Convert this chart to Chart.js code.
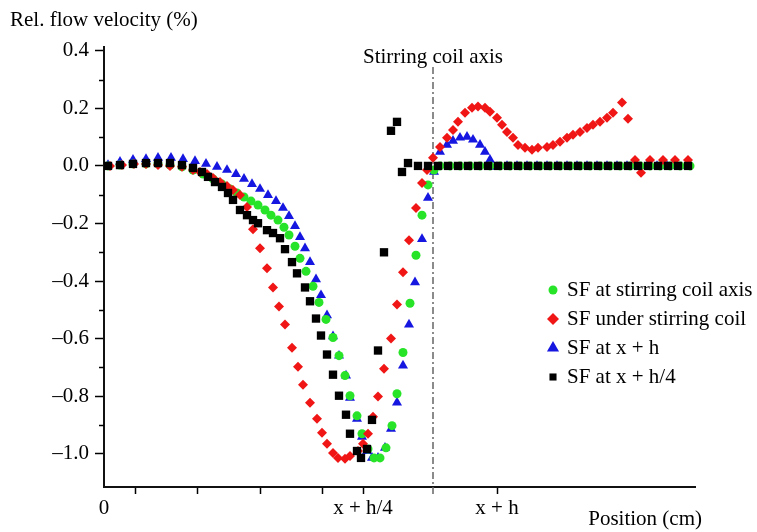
<!DOCTYPE html>
<html>
<head>
<meta charset="utf-8">
<script src="https://cdn.jsdelivr.net/npm/chart.js@4.4.1/dist/chart.umd.min.js"></script>
<style>
  html, body { margin: 0; padding: 0; background: #fff; }
</style>
</head>
<body>
<canvas id="flowChart" width="757" height="532"></canvas>
<script>
// Position along the strand (plot units, 0 = left axis) and relative velocity
const greenX = [4, 16, 29, 42, 54, 66, 78, 89, 99, 109, 118, 126, 133, 140, 147, 154, 161, 167, 174, 180,
    185, 191, 196, 202, 209, 215, 222, 229, 235, 241, 246, 253, 258, 264, 270, 276, 282, 288, 293, 299,
    306, 312, 318, 324, 330, 336, 346, 356, 366, 376, 386, 396, 406, 416, 426, 436, 446, 456, 466, 476,
    486, 496, 506, 516, 526, 536, 546, 556, 566, 576, 586];
const greenY = [0, 0.003, 0.007, 0.007, 0.007, 0.003, -0.003, -0.014, -0.028, -0.045, -0.063, -0.080, -0.094, -0.108, -0.122, -0.136, -0.153, -0.171, -0.188, -0.213,
    -0.240, -0.279, -0.321, -0.366, -0.418, -0.474, -0.533, -0.596, -0.659, -0.728, -0.798, -0.868, -0.930, -0.983, -1.014, -1.014, -0.979, -0.902, -0.791, -0.648,
    -0.477, -0.310, -0.171, -0.066, -0.014, 0, 0, 0, 0, 0, 0, 0, 0, 0, 0, 0, 0, 0, 0, 0,
    0, 0, 0, 0, 0, 0, 0, 0, 0, 0, 0];

const redX = [6, 18, 30, 42, 54, 66, 78, 89, 96, 103, 109, 116, 123, 129, 136, 143, 149, 156, 163, 169,
    175, 181, 188, 194, 199, 206, 213, 218, 223, 229, 234, 241, 246, 254, 259, 264, 269, 274, 280, 287,
    293, 299, 305, 312, 318, 323, 329, 336, 343, 349, 354, 361, 368, 374, 381, 386, 393, 398, 403, 409,
    414, 421, 428, 434, 443, 449, 456, 463, 469, 476, 483, 489, 496, 503, 509, 518, 524, 531, 537, 546,
    559, 571, 584];
const redY = [0, 0.003, 0.007, 0.007, 0.003, 0, -0.003, -0.014, -0.021, -0.028, -0.042, -0.056, -0.070, -0.084, -0.101, -0.143, -0.220, -0.286, -0.355, -0.422,
    -0.488, -0.551, -0.631, -0.697, -0.760, -0.822, -0.878, -0.927, -0.965, -0.997, -1.014, -1.017, -1.007, -0.990, -0.965, -0.930, -0.871, -0.801, -0.704, -0.599,
    -0.481, -0.369, -0.258, -0.146, -0.059, -0.014, 0.028, 0.066, 0.098, 0.125, 0.153, 0.185, 0.202, 0.206, 0.202, 0.188, 0.167, 0.143, 0.118, 0.098,
    0.073, 0.063, 0.056, 0.063, 0.066, 0.073, 0.084, 0.098, 0.108, 0.118, 0.132, 0.143, 0.153, 0.167, 0.185, 0.220, 0.164, 0.021, -0.024, 0.021,
    0.021, 0.021, 0.021];

const blueX = [4, 16, 29, 42, 54, 67, 79, 91, 102, 113, 123, 132, 140, 148, 156, 164, 172, 179, 185, 191,
    196, 201, 206, 212, 217, 223, 229, 235, 242, 246, 253, 258, 263, 268, 274, 281, 287, 293, 299, 305,
    311, 318, 324, 330, 336, 343, 349, 356, 363, 369, 376, 381, 386, 393, 403, 413, 423, 433, 443, 453,
    463, 473, 483, 493, 503, 513, 523, 533, 543, 553, 563, 573, 583];
const blueY = [0.003, 0.014, 0.021, 0.024, 0.028, 0.028, 0.024, 0.017, 0.007, -0.003, -0.014, -0.028, -0.045, -0.063, -0.080, -0.101, -0.122, -0.146, -0.174, -0.209,
    -0.247, -0.286, -0.334, -0.394, -0.449, -0.519, -0.592, -0.659, -0.728, -0.805, -0.878, -0.941, -0.990, -1.014, -1.014, -0.979, -0.913, -0.822, -0.693, -0.551,
    -0.404, -0.254, -0.111, -0.021, 0.049, 0.073, 0.087, 0.098, 0.101, 0.091, 0.073, 0.049, 0.021, -0.003, 0, 0, 0, 0, 0, 0,
    0, 0, 0, 0, 0, 0, 0, 0, 0, 0, 0, 0, 0];

const blackX = [4, 16, 29, 42, 54, 66, 78, 89, 98, 104, 111, 118, 124, 129, 136, 143, 149, 154, 163, 169,
    176, 181, 188, 193, 201, 206, 212, 217, 223, 229, 235, 242, 246, 253, 257, 263, 268, 274, 280, 287,
    293, 298, 304, 314, 324, 334, 344, 354, 364, 374, 384, 394, 404, 414, 424, 434, 444, 454, 464, 474,
    484, 494, 504, 514, 524, 534, 544, 554, 564, 574, 584];
const blackY = [0, 0.003, 0.007, 0.010, 0.010, 0.010, 0.003, -0.007, -0.021, -0.038, -0.056, -0.073, -0.094, -0.118, -0.153, -0.171, -0.188, -0.199, -0.223, -0.233,
    -0.251, -0.289, -0.334, -0.373, -0.422, -0.470, -0.530, -0.589, -0.655, -0.725, -0.798, -0.864, -0.930, -0.990, -1.014, -0.983, -0.882, -0.641, -0.300, 0.122,
    0.153, -0.021, 0.010, 0, 0, 0, 0, 0, 0, 0, 0, 0, 0, 0, 0, 0, 0, 0, 0, 0,
    0, 0, 0, 0, 0, 0, 0, 0, 0, 0, 0];

const seriesNames = ['SF at stirring coil axis', 'SF under stirring coil', 'SF at x + h', 'SF at x + h/4'];

// Axes
const xTickValues = [0, 31, 93, 156, 218, 259, 393];
const xTickLabels = ['0', '', '', '', '', 'x + h/4', 'x + h'];
const yTickValues = [-1.0, -0.8, -0.6, -0.4, -0.2, 0.0, 0.2, 0.4];
const yMinorValues = [-0.9, -0.7, -0.5, -0.3, -0.1, 0.1, 0.3];
const coilAxisX = 329;

const FONT = '"Liberation Serif", "Times New Roman", serif';

function toPoints(xs, ys) {
    return xs.map((x, i) => ({ x: x, y: ys[i] }));
}

function formatY(v) {
    const s = Math.abs(v).toFixed(1);
    return v < -0.0001 ? '\u2013' + s : s;
}

// Extra drawing: minor ticks, coil axis line, titles and legend
const decorations = {
    id: 'decorations',
    beforeDatasetsDraw(chart) {
        const ctx = chart.ctx;
        const x = chart.scales.x.getPixelForValue(coilAxisX);
        ctx.save();
        ctx.strokeStyle = '#666';
        ctx.lineWidth = 1.5;
        ctx.setLineDash([7, 3, 2, 3]);
        ctx.beginPath();
        ctx.moveTo(x, 67);
        ctx.lineTo(x, chart.chartArea.bottom + 7);
        ctx.stroke();
        ctx.restore();
    },
    afterDraw(chart) {
        const ctx = chart.ctx;
        const y = chart.scales.y;
        const area = chart.chartArea;
        ctx.save();

        // minor ticks on the value axis
        ctx.strokeStyle = '#000';
        ctx.lineWidth = 1.5;
        yMinorValues.forEach(v => {
            const py = Math.round(y.getPixelForValue(v)) + 0.5;
            ctx.beginPath();
            ctx.moveTo(area.left - 5, py);
            ctx.lineTo(area.left, py);
            ctx.stroke();
        });

        ctx.fillStyle = '#000';
        ctx.font = '21px ' + FONT;
        ctx.textBaseline = 'middle';
        ctx.textAlign = 'left';
        ctx.fillText('Rel. flow velocity (%)', 10, 20);
        ctx.textAlign = 'right';
        ctx.fillText('Position (cm)', 702, 519);
        ctx.textAlign = 'center';
        ctx.fillText('Stirring coil axis', chart.scales.x.getPixelForValue(coilAxisX), 57);

        // legend
        const rows = [290, 319, 348, 377];
        const radii = [4.5, 6, 7, 5];
        chart.data.datasets.forEach((ds, i) => {
            ctx.fillStyle = ds.backgroundColor;
            Chart.helpers.drawPoint(ctx, { pointStyle: ds.pointStyle, radius: radii[i], rotation: 0, borderWidth: 0 }, 553, rows[i]);
            ctx.fillStyle = '#000';
            ctx.textAlign = 'left';
            ctx.fillText(ds.label, 567, rows[i]);
        });
        ctx.restore();
    }
};

const ctx = document.getElementById('flowChart').getContext('2d');
new Chart(ctx, {
    type: 'scatter',
    data: {
        datasets: [
            {
                label: seriesNames[0],
                data: toPoints(greenX, greenY),
                pointStyle: 'circle',
                pointRadius: 4.5,
                backgroundColor: 'rgb(40, 228, 40)',
                borderColor: 'rgb(40, 228, 40)',
                borderWidth: 0,
                order: 2
            },
            {
                label: seriesNames[1],
                data: toPoints(redX, redY),
                pointStyle: 'rectRot',
                pointRadius: 5,
                backgroundColor: 'rgb(240, 22, 22)',
                borderColor: 'rgb(240, 22, 22)',
                borderWidth: 0,
                order: 1
            },
            {
                label: seriesNames[2],
                data: toPoints(blueX, blueY),
                pointStyle: 'triangle',
                pointRadius: 5.8,
                backgroundColor: 'rgb(22, 22, 225)',
                borderColor: 'rgb(22, 22, 225)',
                borderWidth: 0,
                order: 3
            },
            {
                label: seriesNames[3],
                data: toPoints(blackX, blackY),
                pointStyle: 'rect',
                pointRadius: 5.9,
                backgroundColor: '#000',
                borderColor: '#000',
                borderWidth: 0,
                order: 0
            }
        ]
    },
    options: {
        responsive: false,
        animation: false,
        devicePixelRatio: 1,
        layout: { padding: { top: 47, right: 62, bottom: 0, left: 0 } },
        plugins: {
            legend: { display: false },
            tooltip: { enabled: false }
        },
        scales: {
            x: {
                type: 'linear',
                min: 0,
                max: 591,
                afterBuildTicks: scale => { scale.ticks = xTickValues.map(v => ({ value: v })); },
                afterFit: scale => { scale.height = 45; },
                ticks: {
                    autoSkip: false,
                    maxRotation: 0,
                    padding: 2,
                    color: '#000',
                    font: { family: FONT, size: 21 },
                    callback: (value, index) => xTickLabels[index]
                },
                grid: {
                    drawOnChartArea: false,
                    drawTicks: true,
                    tickLength: 7,
                    tickWidth: 1.5,
                    tickColor: c => (c.tick && c.tick.value === 0) ? 'rgba(0,0,0,0)' : '#000'
                },
                border: { display: true, color: '#111', width: 2 }
            },
            y: {
                type: 'linear',
                min: -1.115,
                max: 0.413,
                afterBuildTicks: scale => { scale.ticks = yTickValues.map(v => ({ value: v })); },
                afterFit: scale => { scale.width = 104; },
                ticks: {
                    padding: 6,
                    color: '#000',
                    font: { family: FONT, size: 21 },
                    callback: value => formatY(value)
                },
                grid: {
                    drawOnChartArea: false,
                    drawTicks: true,
                    tickLength: 9,
                    tickWidth: 1.5,
                    tickColor: '#000'
                },
                border: { display: true, color: '#111', width: 2 }
            }
        }
    },
    plugins: [decorations]
});
</script>
</body>
</html>
